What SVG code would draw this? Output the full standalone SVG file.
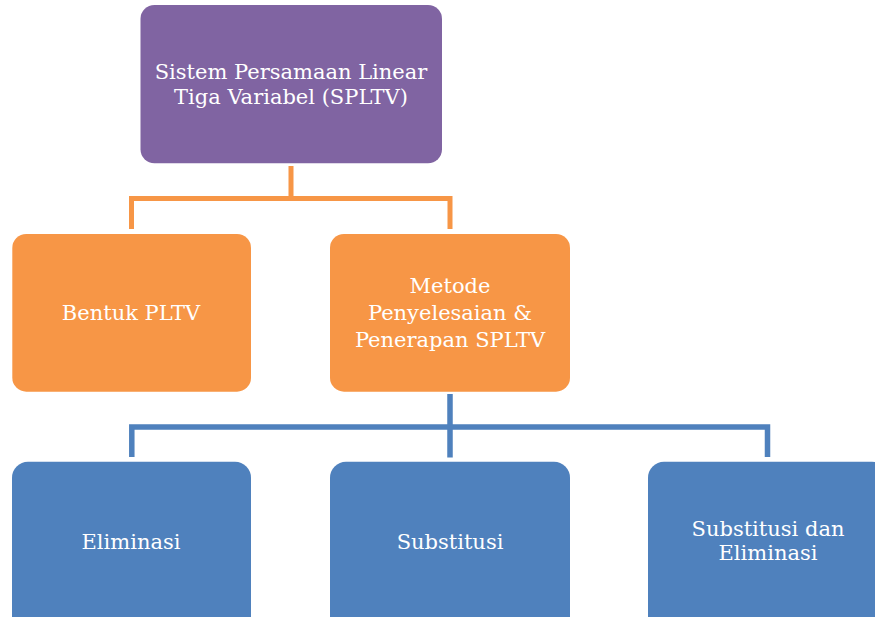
<svg xmlns="http://www.w3.org/2000/svg" width="875" height="617" viewBox="0 0 875 617">
<style>
.t{font-family:"DejaVu Serif","Liberation Serif",serif;font-size:21px;fill:#fff;text-anchor:middle}
.o{fill:none;stroke:#F79646;stroke-width:5}
.b{fill:none;stroke:#4F81BD;stroke-width:5.5}
</style>
<rect width="875" height="617" fill="#fff"/>
<g id="connectors">
<path class="o" d="M291 166V198.5M131.5 229V198.5H450V229"/>
<path class="b" d="M450 394V457.5M131.8 457V427H767.5V457"/>
</g>
<g id="n-root">
<rect x="140.5" y="5" width="301.5" height="158.3" rx="14" fill="#8064A2"/>
<text class="t" x="291" y="78.5">Sistem Persamaan Linear</text>
<text class="t" x="291" y="104">Tiga Variabel (SPLTV)</text>
</g>
<g id="n-bentuk">
<rect x="12.3" y="234" width="238.7" height="157.7" rx="14" fill="#F79646"/>
<text class="t" x="131" y="320">Bentuk PLTV</text>
</g>
<g id="n-metode">
<rect x="330" y="234" width="240" height="157.7" rx="14" fill="#F79646"/>
<text class="t" x="450" y="293">Metode</text>
<text class="t" x="450" y="320">Penyelesaian &amp;</text>
<text class="t" x="450" y="346.5">Penerapan SPLTV</text>
</g>
<g id="n-eliminasi">
<rect x="12" y="461.7" width="239" height="170" rx="16" fill="#4F81BD"/>
<text class="t" x="131" y="549">Eliminasi</text>
</g>
<g id="n-substitusi">
<rect x="330" y="461.7" width="240" height="170" rx="16" fill="#4F81BD"/>
<text class="t" x="450" y="549">Substitusi</text>
</g>
<g id="n-both">
<rect x="648" y="461.7" width="240" height="170" rx="16" fill="#4F81BD"/>
<text class="t" x="768" y="535.5">Substitusi dan</text>
<text class="t" x="768" y="560">Eliminasi</text>
</g>
</svg>
